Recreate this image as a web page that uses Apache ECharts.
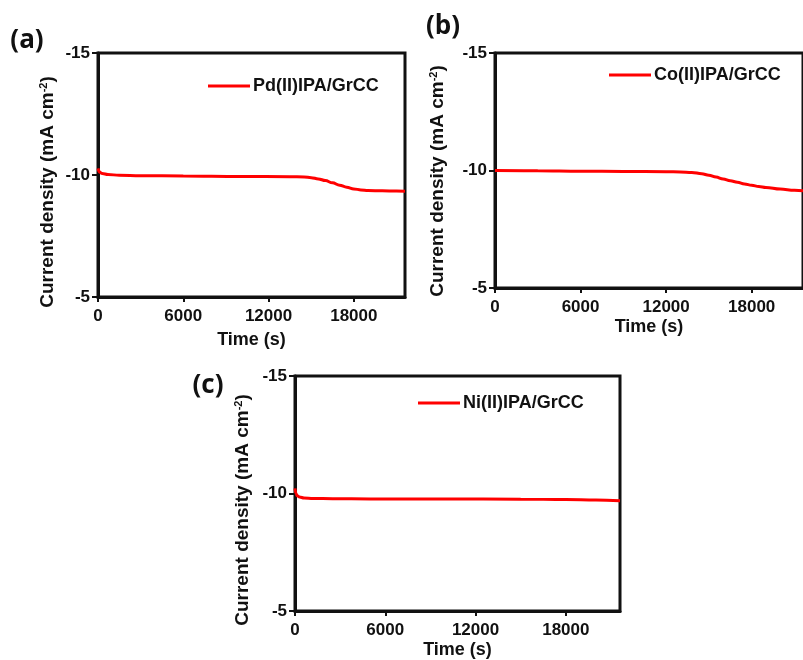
<!DOCTYPE html>
<html>
<head>
<meta charset="utf-8">
<script src="https://cdn.jsdelivr.net/npm/echarts@6/dist/echarts.min.js"></script>
<style>
  html, body { margin: 0; padding: 0; background: #fff; }
  #chart { width: 803px; height: 660px; }
</style>
</head>
<body>
<div id="chart"></div>
<script>
// Chronoamperometry at constant potential for three MOF-modified electrodes
const timeTicks = [0, 6000, 12000, 18000];
const currentTicks = [-15, -10, -5];

const nameA = 'Pd(II)IPA/GrCC';
const timeA = [0, 100, 300, 700, 1500, 3000, 6000, 10000, 13500, 14500, 15000, 15500, 16000, 16500, 17000, 17500, 18000, 18500, 19000, 20000, 21000, 21600];
const currentA = [-10.27, -10.12, -10.06, -10.02, -9.99, -9.97, -9.96, -9.94, -9.93, -9.92, -9.89, -9.84, -9.77, -9.68, -9.58, -9.5, -9.43, -9.39, -9.36, -9.35, -9.34, -9.33];

const nameB = 'Co(II)IPA/GrCC';
const timeB = [0, 3000, 6000, 9000, 12000, 13000, 13800, 14500, 15000, 15500, 16000, 16500, 17000, 17500, 18000, 18500, 19000, 20000, 21000, 21600];
const currentB = [-10.0, -9.99, -9.97, -9.96, -9.95, -9.94, -9.92, -9.86, -9.8, -9.72, -9.64, -9.56, -9.5, -9.43, -9.37, -9.32, -9.28, -9.21, -9.16, -9.14];

const nameC = 'Ni(II)IPA/GrCC';
const timeC = [0, 60, 150, 300, 600, 1200, 2500, 5000, 10000, 15000, 18000, 20000, 21600];
const currentC = [-10.22, -10.0, -9.9, -9.85, -9.81, -9.79, -9.78, -9.77, -9.77, -9.76, -9.74, -9.72, -9.69];

const FONT = '"Liberation Sans", Arial, sans-serif';
const BLACK = '#111';
const RED = '#ff0000';

function pairs(xs, ys) { return xs.map((x, i) => [x, ys[i]]); }

const grids = [
  { left: 98, top: 53, right: 398, bottom: 363 },
  { left: 495, top: 53, right: -7, bottom: 372 },
  { left: 295, top: 376, right: 183, bottom: 46 }
];
const nameGaps = [34, 30, 30];

function xAxisFor(i) {
  return {
    type: 'value', gridIndex: i, min: 0, max: 21600,
    name: 'Time (s)', nameLocation: 'middle', nameGap: nameGaps[i],
    nameTextStyle: { fontFamily: FONT, fontWeight: 'bold', fontSize: 18, color: BLACK },
    axisLine: { show: true, lineStyle: { color: BLACK, width: 3 } },
    axisTick: { show: true, length: 5, customValues: timeTicks, lineStyle: { color: BLACK, width: 2 } },
    axisLabel: {
      customValues: timeTicks, margin: 11, formatter: v => String(v),
      fontFamily: FONT, fontWeight: 'bold', fontSize: 17, color: BLACK
    },
    splitLine: { show: false }
  };
}
function yAxisFor(i) {
  return {
    type: 'value', gridIndex: i, inverse: true, min: -15, max: -5, interval: 5,
    axisLine: { show: true, lineStyle: { color: BLACK, width: 3 } },
    axisTick: { show: true, length: 6, customValues: currentTicks, lineStyle: { color: BLACK, width: 2 } },
    axisLabel: {
      customValues: currentTicks, margin: 8, formatter: v => String(v),
      fontFamily: FONT, fontWeight: 'bold', fontSize: 17, color: BLACK
    },
    splitLine: { show: false }
  };
}
function seriesFor(i, name, xs, ys) {
  return {
    type: 'line', name: name, xAxisIndex: i, yAxisIndex: i,
    data: pairs(xs, ys), smooth: 0.4, smoothMonotone: 'x',
    symbol: 'none', showSymbol: false,
    lineStyle: { color: RED, width: 3 }, itemStyle: { color: RED }
  };
}
function legendFor(name, left, top) {
  return {
    data: [{ name: name, icon: 'rect' }], left: left, top: top, orient: 'horizontal',
    itemWidth: 42, itemHeight: 3, padding: 0,
    itemStyle: { color: RED, borderWidth: 0 },
    textStyle: { fontFamily: FONT, fontWeight: 'bold', fontSize: 18, color: BLACK, padding: [0, 0, 0, -2] }
  };
}
function yTitle(x, y) {
  return {
    type: 'text', x: x, y: y, rotation: Math.PI / 2,
    style: {
      text: '{t|Current density (mA cm}{s|-2}{t|)}',
      align: 'center', verticalAlign: 'middle',
      rich: {
        t: { fontFamily: FONT, fontWeight: 'bold', fontSize: 19, fill: BLACK },
        s: { fontFamily: FONT, fontWeight: 'bold', fontSize: 11, fill: BLACK, verticalAlign: 'top', padding: [0, 0, 9, 0] }
      }
    }
  };
}
function panelLabel(text, x, y) {
  return {
    type: 'text', x: x, y: y,
    style: { text: text, fontFamily: '"Open Sans", sans-serif', fontWeight: 'bold', fontSize: 26, fill: BLACK, align: 'center', verticalAlign: 'middle' }
  };
}

const chart = echarts.init(document.getElementById('chart'), null, { renderer: 'canvas' });
chart.setOption({
  backgroundColor: '#fff',
  animation: false,
  grid: grids.map(g => Object.assign({ show: true, borderColor: BLACK, borderWidth: 3, backgroundColor: 'transparent' }, g)),
  xAxis: [xAxisFor(0), xAxisFor(1), xAxisFor(2)],
  yAxis: [yAxisFor(0), yAxisFor(1), yAxisFor(2)],
  legend: [legendFor(nameA, 208, 77), legendFor(nameB, 609, 66), legendFor(nameC, 418, 394)],
  series: [
    seriesFor(0, nameA, timeA, currentA),
    seriesFor(1, nameB, timeB, currentB),
    seriesFor(2, nameC, timeC, currentC)
  ],
  graphic: [
    yTitle(48, 192), yTitle(438, 181), yTitle(243, 510),
    panelLabel('(a)', 27, 41), panelLabel('(b)', 443, 27), panelLabel('(c)', 208, 386)
  ]
});
</script>
</body>
</html>
